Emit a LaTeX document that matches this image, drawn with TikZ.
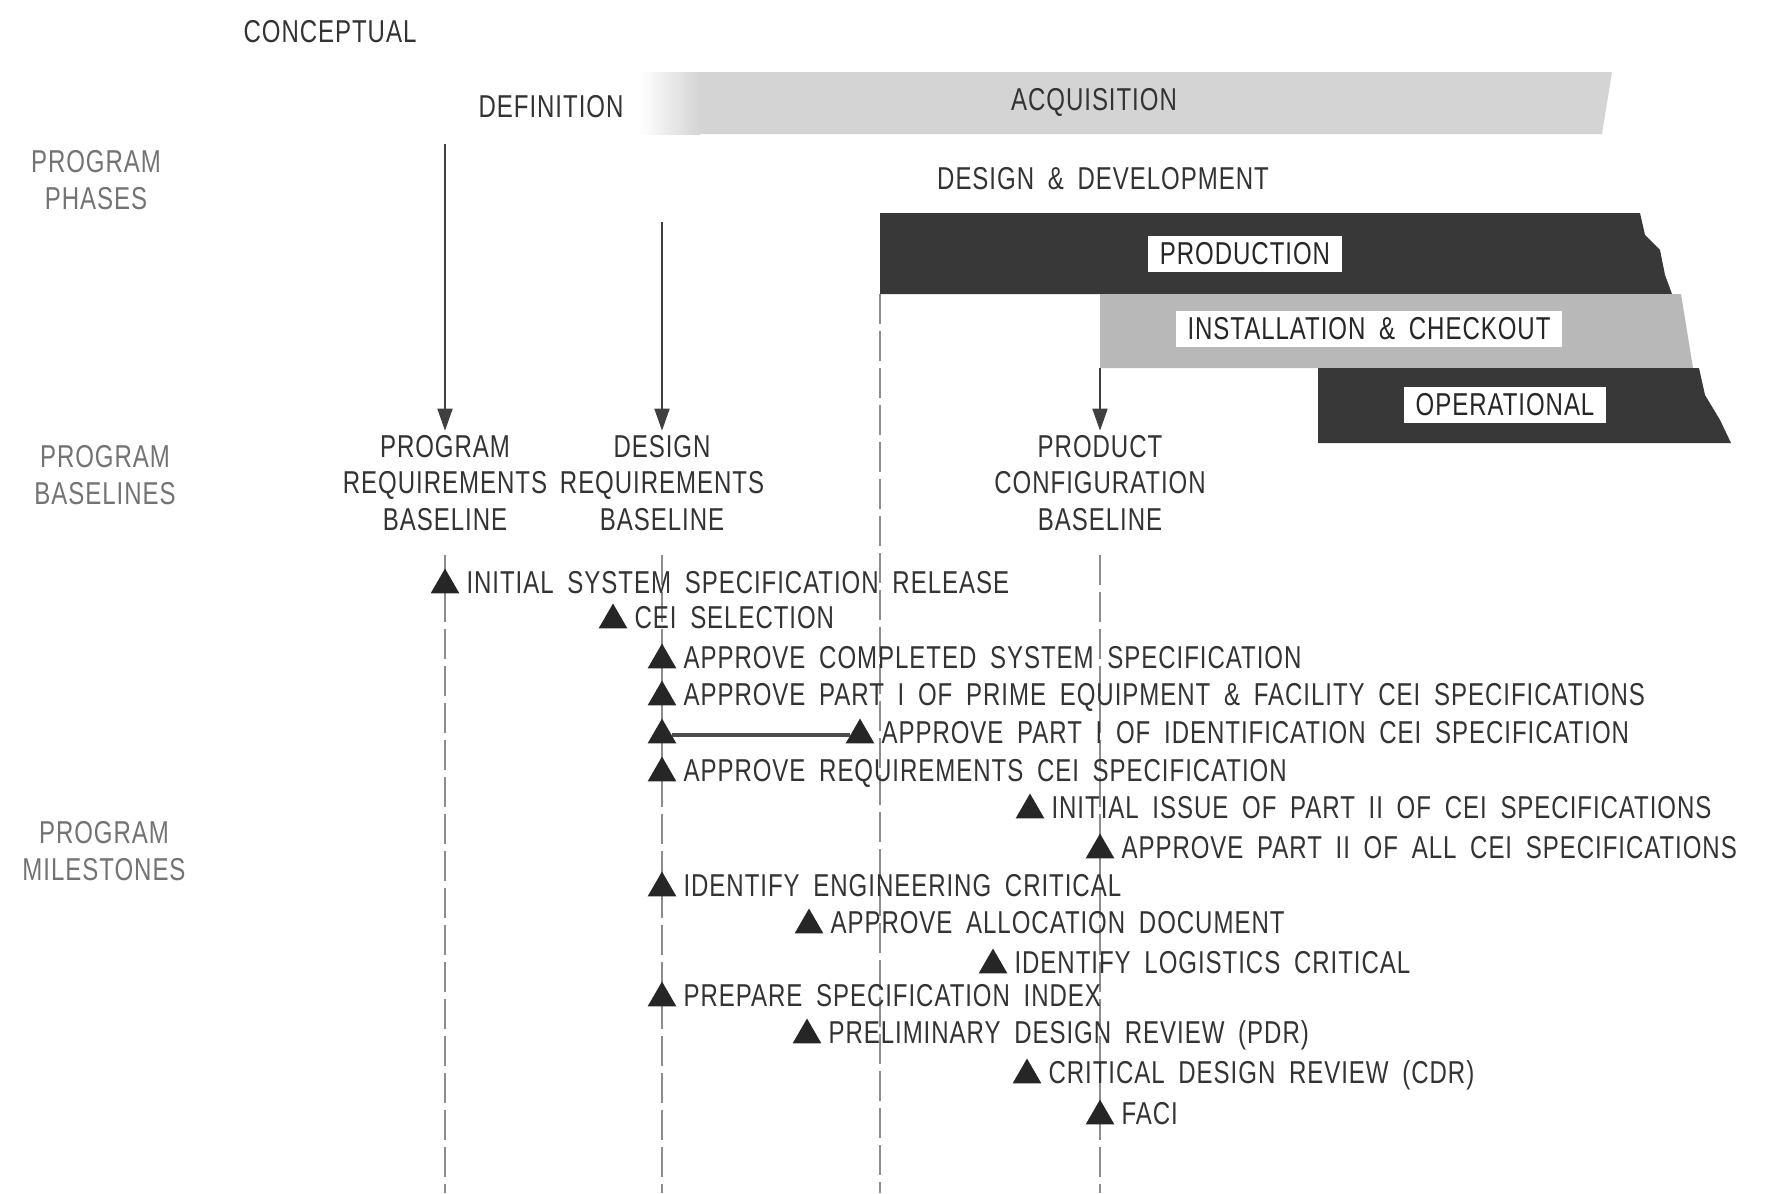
\documentclass[tikz,border=0pt]{standalone}
\usepackage{fontspec}
\setmainfont[FakeStretch=0.76, WordSpace=1.8, LetterSpace=3]{Liberation Sans}
\usetikzlibrary{positioning,arrows.meta,shapes.geometric}

\tikzset{
  lbl/.style={font=\fontsize{9}{10.5}\selectfont, text=black!80, inner sep=1pt},
  sidelbl/.style={lbl, text=black!55, align=center},
  baselbl/.style={lbl, align=center},
  barlbl/.style={lbl, fill=white, text=black!85, inner xsep=1.2mm, inner ysep=0.7mm},
  milestone/.style={regular polygon, regular polygon sides=3, fill=black!85, inner sep=0pt, minimum size=3.3mm},
  mtext/.style={lbl, text height=6.4pt, text depth=0pt},
  guide/.style={black!45, line width=0.3pt, dash pattern=on 3mm off 0.7mm},
  feed/.style={black!75, line width=0.5pt, -{Triangle[length=2.2mm,width=1.5mm]}},
}

\begin{document}
\begin{tikzpicture}[x=0.1mm,y=-0.1mm]
  \useasboundingbox (0,0) rectangle (1774,1193);
  \coordinate (bot) at (0,1193);

  % phase bars
  \shade[left color=white, right color=black!17] (640,72) rectangle (700,134);
  \fill[black!17] (700,72) -- (1612,72) -- (1602,134) -- (700,134) -- cycle;
  \fill[black!78] (880,213) -- (1640,213) -- (1645,235) -- (1660,250) -- (1665,275) -- (1672,294) -- (880,294) -- cycle;
  \fill[black!28] (1100,294) -- (1681,294) -- (1693,368) -- (1100,368) -- cycle;
  \fill[black!78] (1318,368) -- (1699,368) -- (1705,395) -- (1720,420) -- (1731,443) -- (1318,443) -- cycle;

  \node[lbl] (concept) at (330,32) {CONCEPTUAL};
  \node[lbl] (defn) at (551,107) {DEFINITION};
  \node[lbl] (acq) at (1094,102) {ACQUISITION};
  \node[lbl] (desdev) at (1103,179) {DESIGN \& DEVELOPMENT};
  \node[barlbl] (prod) at (1245,254) {PRODUCTION};
  \node[barlbl] (inst) at (1369,329) {INSTALLATION \& CHECKOUT};
  \node[barlbl] (oper) at (1505,405) {OPERATIONAL};

  \node[sidelbl] (phases) at (96,180) {PROGRAM\\PHASES};
  \node[sidelbl] (baselines) at (105,475) {PROGRAM\\BASELINES};
  \node[sidelbl] (stones) at (104,851) {PROGRAM\\MILESTONES};

  % baselines
  \node[baselbl] (prb) at (445,483) {PROGRAM\\REQUIREMENTS\\BASELINE};
  \node[baselbl] (drb) at (662,483) {DESIGN\\REQUIREMENTS\\BASELINE};
  \node[baselbl] (pcb) at (1100,483) {PRODUCT\\CONFIGURATION\\BASELINE};

  \coordinate (prtop) at (445,144);
  \coordinate (drtop) at (662,222);
  \coordinate (prodcorner) at (880,294);
  \coordinate (instcorner) at (1100,368);

  \draw[feed] (prtop) -- (prb.north);
  \draw[feed] (drtop) -- (drb.north);
  \draw[feed] (instcorner) -- (pcb.north);

  \draw[guide] ([yshift=-2mm]prb.south) -- (prb.south |- bot);
  \draw[guide] ([yshift=-2mm]drb.south) -- (drb.south |- bot);
  \draw[guide] ([yshift=-2mm]pcb.south) -- (pcb.south |- bot);
  \draw[guide] (prodcorner) -- (prodcorner |- bot);

  % milestones
  \foreach \i/\x/\y/\t in {
      1/445/585/{INITIAL SYSTEM SPECIFICATION RELEASE},
      2/613/620/{CEI SELECTION},
      3/662/660/{APPROVE COMPLETED SYSTEM SPECIFICATION},
      4/662/697/{APPROVE PART I OF PRIME EQUIPMENT \& FACILITY CEI SPECIFICATIONS},
      5/860/735/{APPROVE PART I OF IDENTIFICATION CEI SPECIFICATION},
      6/662/773/{APPROVE REQUIREMENTS CEI SPECIFICATION},
      7/1030/810/{INITIAL ISSUE OF PART II OF CEI SPECIFICATIONS},
      8/1100/850/{APPROVE PART II OF ALL CEI SPECIFICATIONS},
      9/662/888/{IDENTIFY ENGINEERING CRITICAL},
      10/809/925/{APPROVE ALLOCATION DOCUMENT},
      11/993/965/{IDENTIFY LOGISTICS CRITICAL},
      12/662/998/{PREPARE SPECIFICATION INDEX},
      13/807/1035/{PRELIMINARY DESIGN REVIEW (PDR)},
      14/1027/1075/{CRITICAL DESIGN REVIEW (CDR)},
      15/1100/1116/{FACI}}{
    \node[milestone] (m\i) at (\x,\y) {};
    \node[mtext, right=0.7mm of m\i, yshift=0.25mm] (t\i) {\t};
  }
  \node[milestone] (m5a) at (662,735) {};
  \draw[black!70, line width=1.2pt] (m5a) -- (m5);
\end{tikzpicture}
\end{document}
